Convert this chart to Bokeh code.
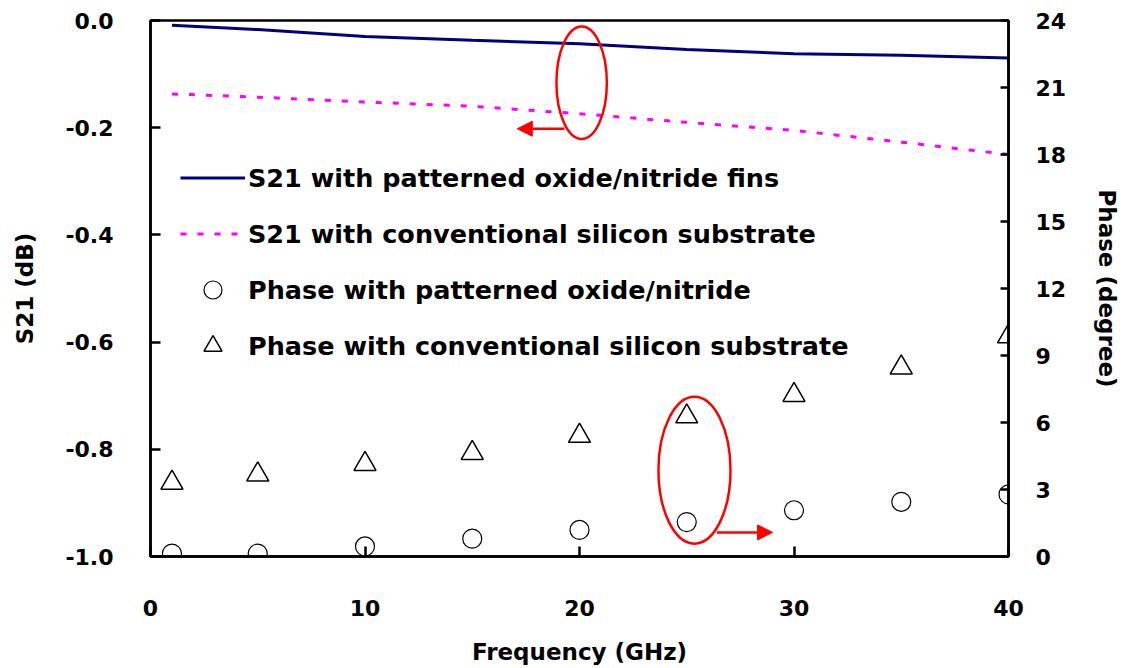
from bokeh.plotting import figure
from bokeh.models import (Range1d, LinearAxis, FixedTicker, NumeralTickFormatter,
                          Legend, LegendItem, Arrow, NormalHead)
from bokeh.embed import file_html
from bokeh.resources import INLINE

# Frequency points (GHz)
freq = [1, 5, 10, 15, 20, 25, 30, 35, 40]

# Insertion loss S21 (dB)
s21_fins = [-0.009, -0.017, -0.030, -0.037, -0.0435, -0.054, -0.062, -0.065, -0.070]
s21_conv = [-0.137, -0.143, -0.152, -0.160, -0.174, -0.190, -0.205, -0.227, -0.250]

# Phase (degree)
phase_fins = [0.13, 0.13, 0.45, 0.80, 1.19, 1.54, 2.07, 2.45, 2.78]
phase_conv = [3.30, 3.67, 4.14, 4.63, 5.40, 6.27, 7.23, 8.46, 9.85]

# Axis ticks
x_ticks = [0, 10, 20, 30, 40]
s21_ticks = [-1.0, -0.8, -0.6, -0.4, -0.2, 0.0]
phase_ticks = [0, 3, 6, 9, 12, 15, 18, 21, 24]

labels = [
    "S21 with patterned oxide/nitride fins",
    "S21 with conventional silicon substrate",
    "Phase with patterned oxide/nitride",
    "Phase with conventional silicon substrate",
]

FONT = "DejaVu Sans"

p = figure(width=1126, height=668, output_backend="svg", toolbar_location=None,
           x_range=Range1d(0, 40), y_range=Range1d(-1.0, 0.0),
           min_border_left=150, min_border_right=118,
           min_border_top=20, min_border_bottom=112)
p.extra_y_ranges = {"phase": Range1d(0, 24)}
p.background_fill_color = "white"
p.border_fill_color = "white"
p.grid.visible = False
p.outline_line_color = "black"
p.outline_line_width = 2.5
p.outline_line_alpha = 1.0

# Left axis (S21)
ya = p.yaxis[0]
ya.ticker = FixedTicker(ticks=s21_ticks)
ya.formatter = NumeralTickFormatter(format="0.0")
ya.axis_label = "S21 (dB)"
ya.major_label_standoff = 37
ya.axis_label_standoff = 24

# Bottom axis
xa = p.xaxis[0]
xa.ticker = FixedTicker(ticks=x_ticks)
xa.axis_label = "Frequency (GHz)"
xa.major_label_standoff = 43
xa.axis_label_standoff = 20

# Right axis (phase)
ra = LinearAxis(y_range_name="phase", ticker=FixedTicker(ticks=phase_ticks),
                axis_label="Phase (degree)")
ra.major_label_standoff = 27
ra.axis_label_standoff = 25
p.add_layout(ra, "right")

for ax, tick_in in ((ya, 10), (xa, 10), (ra, 8)):
    ax.axis_line_color = "black"
    ax.axis_line_width = 2.5
    ax.major_tick_line_color = "black"
    ax.major_tick_line_width = 2.5
    ax.major_tick_in = tick_in
    ax.major_tick_out = 0
    ax.minor_tick_line_color = None
    ax.major_label_text_font = FONT
    ax.major_label_text_font_style = "bold"
    ax.major_label_text_font_size = "22px"
    ax.major_label_text_color = "black"
    ax.axis_label_text_font = FONT
    ax.axis_label_text_font_style = "bold"
    ax.axis_label_text_font_size = "23px"
    ax.axis_label_text_color = "black"

# S21 curves
r1 = p.line(freq, s21_fins, line_color="#000080", line_width=3)
r2 = p.line(freq, s21_conv, line_color="#ff00ff", line_width=3, line_dash="6 11")

# Phase markers
r3 = p.scatter(freq, phase_fins, y_range_name="phase", marker="circle", size=19,
               fill_color=None, line_color="black", line_width=1.2)
r4 = p.scatter(freq, phase_conv, y_range_name="phase", marker="triangle", size=22,
               fill_color=None, line_color="black", line_width=1.5)

# Red ellipses and arrows pointing to the axis each group belongs to
p.ellipse(x=[20.1, 25.36], y=[-0.116, -0.839], width=[2.35, 3.36], height=[0.21, 0.274],
          fill_color=None, line_color="#ff0000", line_width=2.5)
p.add_layout(Arrow(end=NormalHead(size=15, fill_color="#ff0000", line_color="#ff0000"),
                   x_start=19.3, y_start=-0.202, x_end=17.1, y_end=-0.202,
                   line_color="#ff0000", line_width=2.5))
p.add_layout(Arrow(end=NormalHead(size=15, fill_color="#ff0000", line_color="#ff0000"),
                   x_start=26.4, y_start=-0.955, x_end=29.0, y_end=-0.955,
                   line_color="#ff0000", line_width=2.5))

legend = Legend(items=[LegendItem(label=l, renderers=[r]) for l, r in zip(labels, [r1, r2, r3, r4])],
                location=(30, 188), orientation="vertical",
                glyph_width=65, glyph_height=45, spacing=11, padding=0, margin=0,
                label_standoff=3, border_line_color=None, background_fill_alpha=0,
                label_text_font=FONT, label_text_font_style="bold",
                label_text_font_size="25.5px", label_text_color="black")
p.add_layout(legend)

open("out.html", "w").write(file_html(p, INLINE))
